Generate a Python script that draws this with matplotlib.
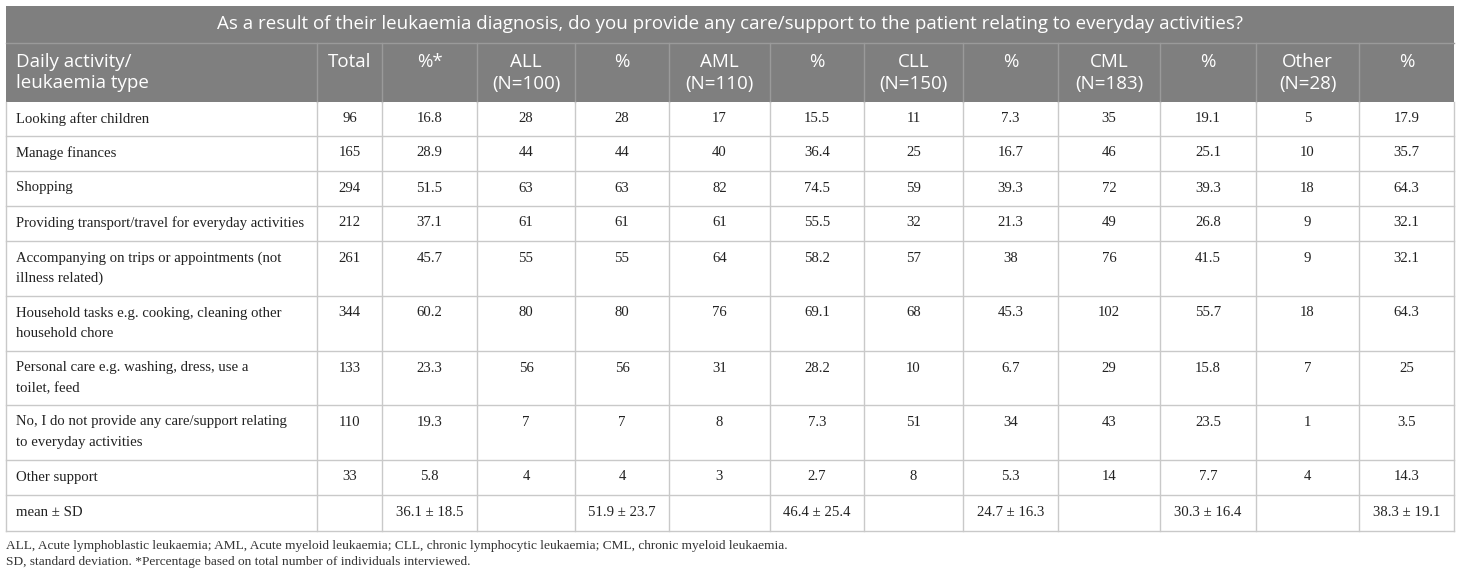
import matplotlib
matplotlib.use("Agg")
import matplotlib.pyplot as plt
from matplotlib.patches import Rectangle

title = ("As a result of their leukaemia diagnosis, do you provide any care/support "
         "to the patient relating to everyday activities?")
col_headers = ["Daily activity/\nleukaemia type", "Total", "%*", "ALL\n(N=100)", "%",
               "AML\n(N=110)", "%", "CLL\n(N=150)", "%", "CML\n(N=183)", "%",
               "Other\n(N=28)", "%"]
activities = [
    "Looking after children",
    "Manage finances",
    "Shopping",
    "Providing transport/travel for everyday activities",
    "Accompanying on trips or appointments (not\nillness related)",
    "Household tasks e.g. cooking, cleaning other\nhousehold chore",
    "Personal care e.g. washing, dress, use a\ntoilet, feed",
    "No, I do not provide any care/support relating\nto everyday activities",
    "Other support",
]
total_n = [96, 165, 294, 212, 261, 344, 133, 110, 33]
total_pct = ["16.8", "28.9", "51.5", "37.1", "45.7", "60.2", "23.3", "19.3", "5.8"]
all_n = [28, 44, 63, 61, 55, 80, 56, 7, 4]
all_pct = ["28", "44", "63", "61", "55", "80", "56", "7", "4"]
aml_n = [17, 40, 82, 61, 64, 76, 31, 8, 3]
aml_pct = ["15.5", "36.4", "74.5", "55.5", "58.2", "69.1", "28.2", "7.3", "2.7"]
cll_n = [11, 25, 59, 32, 57, 68, 10, 51, 8]
cll_pct = ["7.3", "16.7", "39.3", "21.3", "38", "45.3", "6.7", "34", "5.3"]
cml_n = [35, 46, 72, 49, 76, 102, 29, 43, 14]
cml_pct = ["19.1", "25.1", "39.3", "26.8", "41.5", "55.7", "15.8", "23.5", "7.7"]
other_n = [5, 10, 18, 9, 9, 18, 7, 1, 4]
other_pct = ["17.9", "35.7", "64.3", "32.1", "32.1", "64.3", "25", "3.5", "14.3"]
mean_sd = ["36.1 ± 18.5", "51.9 ± 23.7", "46.4 ± 25.4", "24.7 ± 16.3",
           "30.3 ± 16.4", "38.3 ± 19.1"]
footnotes = [
    "ALL, Acute lymphoblastic leukaemia; AML, Acute myeloid leukaemia; "
    "CLL, chronic lymphocytic leukaemia; CML, chronic myeloid leukaemia.",
    "SD, standard deviation. *Percentage based on total number of individuals interviewed.",
]

# layout in pixels
col_edges = [6, 317, 382, 477, 575, 669, 770, 864, 963, 1058, 1160, 1256, 1359, 1454]
row_edges = [102, 136, 171, 206, 241, 296, 351, 405, 460, 495, 531]
title_top, header_top = 6, 43

HEAD_BG = "#7f7f7f"
GRID = "#c9c9c9"
SERIF = ["Liberation Serif", "DejaVu Serif"]
SANS = ["Open Sans", "DejaVu Sans"]
HEAD_FS = 13.5
BODY_FS = 10.6

fig = plt.figure(figsize=(14.6, 5.75), dpi=100)
ax = fig.add_axes([0, 0, 1, 1])
ax.set_xlim(0, 1460)
ax.set_ylim(575, 0)
ax.axis("off")

x0, x1 = col_edges[0], col_edges[-1]
ax.add_patch(Rectangle((x0, title_top), x1 - x0, row_edges[0] - title_top,
                       facecolor=HEAD_BG, edgecolor="none"))
ax.text((x0 + x1) / 2, 24, title, ha="center", va="center", color="white",
        fontsize=HEAD_FS, family=SANS)
ax.plot([x0, x1], [header_top, header_top], color="#9a9a9a", lw=1)
for xe in col_edges[1:-1]:
    ax.plot([xe, xe], [header_top, row_edges[0]], color="#9a9a9a", lw=1)


def put_lines(x, ytop, text, ha, step=20.5, **kw):
    for i, line in enumerate(text.split("\n")):
        ax.text(x, ytop + i * step, line, ha=ha, va="center", **kw)


for j, h in enumerate(col_headers):
    if j == 0:
        put_lines(col_edges[0] + 10, 62, h, "left", step=21.5, color="white",
                  fontsize=HEAD_FS, family=SANS)
    else:
        put_lines((col_edges[j] + col_edges[j + 1]) / 2, 62, h, "center", step=21.5,
                  color="white", fontsize=HEAD_FS, family=SANS)

columns = [total_n, total_pct, all_n, all_pct, aml_n, aml_pct,
           cll_n, cll_pct, cml_n, cml_pct, other_n, other_pct]
for i, act in enumerate(activities):
    ytop = row_edges[i] + 17
    put_lines(col_edges[0] + 10, ytop, act, "left", color="#222222",
              fontsize=BODY_FS, family=SERIF)
    for j, col in enumerate(columns):
        xc = (col_edges[j + 1] + col_edges[j + 2]) / 2
        ax.text(xc, ytop, str(col[i]), ha="center", va="center", color="#222222",
                fontsize=BODY_FS, family=SERIF)

# mean ± SD row
ytop = row_edges[-2] + 17
ax.text(col_edges[0] + 10, ytop, "mean ± SD", ha="left", va="center",
        color="#222222", fontsize=BODY_FS, family=SERIF)
for k, val in enumerate(mean_sd):
    j = 2 * k + 2
    ax.text((col_edges[j] + col_edges[j + 1]) / 2, ytop, val, ha="center",
            va="center", color="#222222", fontsize=BODY_FS, family=SERIF)

# body grid
for ye in row_edges[1:]:
    ax.plot([x0, x1], [ye, ye], color=GRID, lw=1)
for xe in col_edges:
    ax.plot([xe, xe], [row_edges[0], row_edges[-1]], color=GRID, lw=1)

for k, note in enumerate(footnotes):
    ax.text(x0, 546 + k * 15.5, note, ha="left", va="center", color="#333333",
            fontsize=9.6, family=SERIF)

fig.savefig("out.png", dpi=100, facecolor="white")
